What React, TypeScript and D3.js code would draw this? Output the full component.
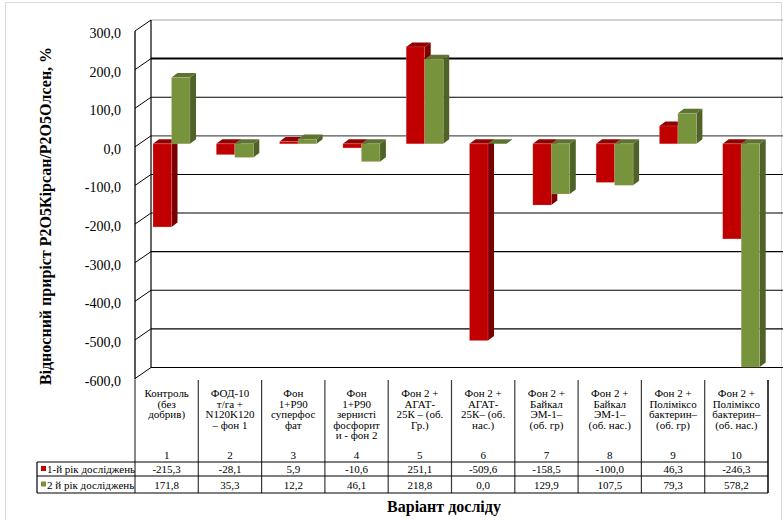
import * as d3 from "d3";

// categories (lines of the table header) and their numbers
const categories: string[][] = [
  ["Контроль", "(без", "добрив)"],
  ["ФОД-10", "т/га +", "N120K120", "– фон 1"],
  ["Фон", "1+P90", "суперфос", "фат"],
  ["Фон", "1+P90", "зернисті", "фосфорит", "и - фон 2"],
  ["Фон 2 +", "АГАТ-", "25К – (об.", "Гр.)"],
  ["Фон 2 +", "АГАТ-", "25К– (об.", "нас.)"],
  ["Фон 2 +", "Байкал", "ЭМ-1–", "(об. гр)"],
  ["Фон 2 +", "Байкал", "ЭМ-1–", "(об. нас.)"],
  ["Фон 2 +", "Поліміксо", "бактерин–", "(об. гр)"],
  ["Фон 2 +", "Поліміксо", "бактерин–", "(об. нас.)"],
];
const catNumbers = ["1", "2", "3", "4", "5", "6", "7", "8", "9", "10"];

const year1 = [-215.3, -28.1, 5.9, -10.6, 251.1, -509.6, -158.5, -100.0, 46.3, -246.3];
const year2 = [171.8, -35.3, 12.2, -46.1, 218.8, 0.0, -129.9, -107.5, 79.3, -578.2];

const seriesNames = ["1-й рік досліджень", "2 й рік досліджень"];
const yTicks = [300, 200, 100, 0, -100, -200, -300, -400, -500, -600];

const W = 783;
const H = 520;
const FONT = "Liberation Serif";
const fontStyle = { fontFamily: FONT };

// 3d offsets
const DEPTH = { dx: 16, dy: -11 }; // front -> back wall
const BAR_SHIFT = -3; // bars sit a bit behind the front
const BAR_D = { dx: 6, dy: -4.5 };

const colors = [
  { front: "#C00000", side: "#7A0000", top: "#920000", key: "#C00000" },
  { front: "#77933C", side: "#4F6228", top: "#5C7430", key: "#77933C" },
];

const locale = d3.formatLocale({
  decimal: ",",
  thousands: " ",
  grouping: [3],
  currency: ["", ""],
  minus: "-",
});
const fmt = locale.format(".1f");
// source number format shows the second series without minus sign
const tableFmt = [(v: number) => fmt(v), (v: number) => fmt(Math.abs(v))];

export default function App() {
  const x = d3
    .scaleBand<number>()
    .domain(d3.range(categories.length))
    .range([135, 768]);
  const sub = d3.scaleBand<number>().domain([0, 1]).range([18, 55]);
  const y = d3.scaleLinear().domain([-600, 300]).range([378.5, 31]);

  const series = [year1, year2];

  const bar = (i: number, s: number) => {
    const v = series[s][i];
    const bx = x(i)! + sub(s)!;
    const bw = sub.bandwidth();
    const y0 = y(0) + BAR_SHIFT;
    const yv = y(v) + BAR_SHIFT;
    const top = Math.min(y0, yv);
    const bot = Math.max(y0, yv);
    const c = colors[s];
    const { dx, dy } = BAR_D;
    return (
      <g key={`b${i}-${s}`}>
        <polygon
          points={`${bx + bw},${top} ${bx + bw + dx},${top + dy} ${bx + bw + dx},${bot + dy} ${bx + bw},${bot}`}
          fill={c.side}
        />
        <polygon
          points={`${bx},${top} ${bx + dx},${top + dy} ${bx + bw + dx},${top + dy} ${bx + bw},${top}`}
          fill={c.top}
        />
        <rect x={bx} y={top} width={bw} height={bot - top} fill={c.front} stroke="rgba(255,200,200,0.35)" strokeWidth={0.6} />
      </g>
    );
  };

  const backL = 135 + DEPTH.dx;
  const backR = 768 + DEPTH.dx;
  const tableTop = 380;
  const rowTops = [462, 476, 493];

  return (
    <div style={{ position: "absolute", left: 0, top: 0 }}>
      <svg width={W} height={H} style={{ display: "block", background: "#fff" }}>
        <rect x={5.5} y={2.5} width={776} height={530} fill="none" stroke="#d9d9d9" />

        {/* back wall gridlines */}
        {yTicks.map((t) => {
          const yy = y(t) + DEPTH.dy;
          const edge = t === 300 || t === 0;
          return (
            <line
              key={`g${t}`}
              x1={backL}
              x2={backR}
              y1={yy}
              y2={yy}
              stroke={t === 300 ? "#a6a6a6" : edge ? "#555" : "#000"}
              strokeWidth={t === 200 ? 2 : 1.1}
            />
          );
        })}
        <line x1={backL} x2={backL} y1={y(300) + DEPTH.dy} y2={y(-600) + DEPTH.dy} stroke="#000" strokeWidth={1.2} />

        {/* left wall: front axis and diagonal ticks */}
        <line x1={135} x2={135} y1={y(300)} y2={y(-600) + 1} stroke="#595959" strokeWidth={2} />
        {yTicks.map((t) => (
          <line
            key={`d${t}`}
            x1={135}
            y1={y(t)}
            x2={backL}
            y2={y(t) + DEPTH.dy}
            stroke="#000"
            strokeWidth={1}
          />
        ))}
        {yTicks.map((t) => (
          <text
            key={`l${t}`}
            x={121}
            y={y(t) + 7}
            textAnchor="end"
            fontFamily={FONT}
            style={fontStyle}
            fontSize={14}
            fill="#000"
          >
            {fmt(t)}
          </text>
        ))}

        {/* bars */}
        {categories.map((_, i) => [bar(i, 0), bar(i, 1)])}

        {/* data table */}
        {d3.range(categories.length + 1).map((k) => {
          const xx = k < categories.length ? x(k)! : 768;
          return (
            <line
              key={`v${k}`}
              x1={xx}
              x2={xx}
              y1={tableTop}
              y2={rowTops[2]}
              stroke={k === categories.length ? "#404040" : "#3a3a3a"}
              strokeWidth={k === categories.length ? 2 : 1.2}
            />
          );
        })}
        {rowTops.map((ry) => (
          <line key={`h${ry}`} x1={37} x2={768} y1={ry} y2={ry} stroke="#000" strokeWidth={1.2} />
        ))}
        <line x1={37} x2={37} y1={rowTops[0]} y2={rowTops[2]} stroke="#000" strokeWidth={1.2} />

        {categories.map((lines, i) =>
          lines.map((ln, j) => (
            <text
              key={`c${i}-${j}`}
              x={x(i)! + x.bandwidth() / 2}
              y={397 + j * 10.6}
              textAnchor="middle"
              fontFamily={FONT}
              style={fontStyle}
              fontSize={11}
              fill="#000"
            >
              {ln}
            </text>
          ))
        )}
        {catNumbers.map((n, i) => (
          <text
            key={`n${i}`}
            x={x(i)! + x.bandwidth() / 2}
            y={459}
            textAnchor="middle"
            fontFamily={FONT}
            style={fontStyle}
            fontSize={11}
          >
            {n}
          </text>
        ))}
        {series.map((vals, s) =>
          vals.map((v, i) => (
            <text
              key={`t${s}-${i}`}
              x={x(i)! + x.bandwidth() / 2}
              y={(rowTops[s] + rowTops[s + 1]) / 2 + 4}
              textAnchor="middle"
              fontFamily={FONT}
              style={fontStyle}
              fontSize={11}
            >
              {tableFmt[s](v)}
            </text>
          ))
        )}
        {seriesNames.map((name, s) => {
          const cy = (rowTops[s] + rowTops[s + 1]) / 2;
          return (
            <g key={`k${s}`}>
              <rect x={41} y={cy - 3} width={5} height={5} fill={colors[s].key} />
              <text x={47} y={cy + 4} fontFamily={FONT} style={fontStyle} fontSize={11}>
                {name}
              </text>
            </g>
          );
        })}

        {/* axis titles */}
        <text
          transform={`translate(51,216) rotate(-90)`}
          textAnchor="middle"
          fontFamily={FONT}
          style={fontStyle}
          fontSize={16}
          fontWeight="bold"
        >
          Відносний приріст P2O5Кірсан/P2O5Олсен, %
        </text>
        <text
          x={444}
          y={512}
          textAnchor="middle"
          fontFamily={FONT}
          style={fontStyle}
          fontSize={16}
          fontWeight="bold"
        >
          Варіант досліду
        </text>
      </svg>
    </div>
  );
}
